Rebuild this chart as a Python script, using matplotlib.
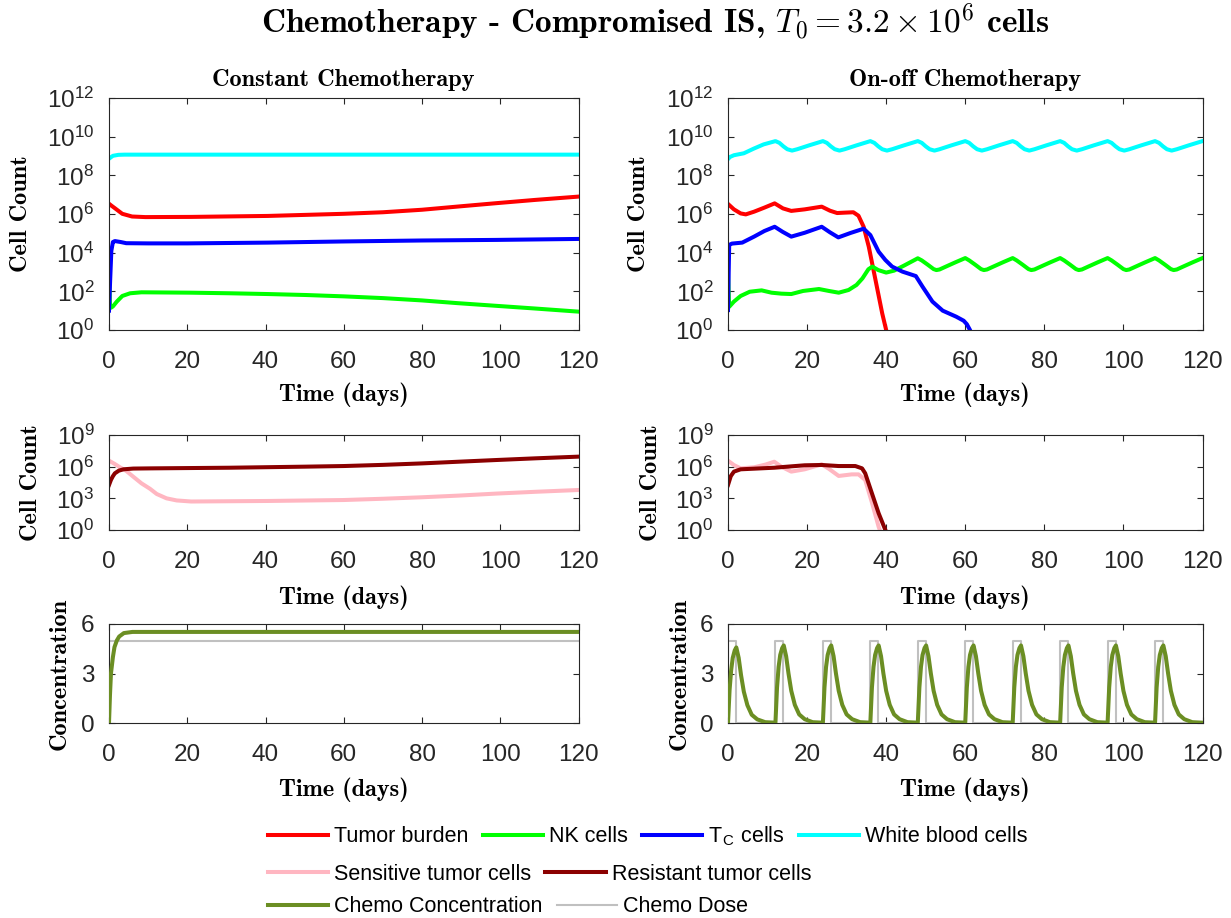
import numpy as np
import matplotlib
matplotlib.use('Agg')
import matplotlib.pyplot as plt
from matplotlib.ticker import NullLocator

plt.rcParams['font.family'] = 'Liberation Sans'
plt.rcParams['mathtext.fontset'] = 'cm'

# ---- constant chemotherapy (log10 of cell counts) ----
const_t_tumor = [0, 0.7, 1.5, 3.4, 5.9, 9.3, 21, 40.6, 60, 70, 80, 89.4, 99, 109, 120]
const_tumor = [6.53, 6.42, 6.3, 6.01, 5.87, 5.84, 5.85, 5.9, 6.01, 6.09, 6.22, 6.39, 6.56, 6.73, 6.9]

const_t_nk = [0, 0.25, 0.5, 1.0, 2.0, 3.4, 5.4, 8.3, 21, 30.8, 40.6, 50.3, 60, 70, 80, 89, 99, 109, 120]
const_nk = [2.93, 1.3, 1.15, 1.22, 1.47, 1.76, 1.9, 1.95, 1.93, 1.9, 1.86, 1.81, 1.74, 1.65, 1.53, 1.39, 1.25, 1.11, 0.95]

const_t_tc = [0, 0.3, 0.6, 1, 1.5, 3, 4.4, 10, 20, 40.6, 60, 80, 99, 120]
const_tc = [1.0, 2.6, 4.1, 4.55, 4.6, 4.55, 4.49, 4.48, 4.48, 4.52, 4.58, 4.63, 4.66, 4.71]

const_t_wbc = [0, 1, 2.4, 4, 120]
const_wbc = [8.86, 9.01, 9.06, 9.07, 9.07]

const_t_sens = [0, 1.5, 2.8, 4.4, 6.2, 8.3, 10.5, 12.2, 14.7, 17.3, 21, 40.6, 60, 70, 80, 89.4, 99, 109, 120]
const_sens = [6.57, 6.25, 5.94, 5.6, 5.05, 4.42, 3.9, 3.41, 3.0, 2.8, 2.7, 2.75, 2.84, 2.96, 3.1, 3.26, 3.45, 3.62, 3.79]

const_t_res = [0, 0.5, 1, 1.5, 2.5, 3.7, 6.2, 11, 30.8, 50, 60, 70, 80, 89.4, 99, 109, 120]
const_res = [4.26, 4.75, 5.1, 5.37, 5.62, 5.75, 5.82, 5.84, 5.9, 6.0, 6.06, 6.17, 6.31, 6.47, 6.63, 6.79, 6.95]

const_t_conc = [0, 0.25, 0.5, 1, 1.4, 2, 2.6, 3.8, 6, 120]
const_conc = [0, 1.7, 3.0, 4.0, 4.6, 5.0, 5.24, 5.45, 5.52, 5.52]
const_t_dose = [0, 120]
const_dose = [5, 5]

# ---- on-off chemotherapy ----
dose_start = [0, 12, 24, 36, 48, 60, 72, 84, 96, 108]
dose_days = 2
dose_level = 5

onoff_t_tumor = [0, 1.5, 3.2, 4.5, 6.6, 9.2, 11.8, 13.9, 16, 19.4, 23.7, 25.8, 27.6, 29.5, 31.7, 33, 34.3,
                 35.6, 37.3, 39, 40, 41]
onoff_tumor = [6.52, 6.24, 6.03, 5.98, 6.12, 6.33, 6.55, 6.29, 6.16, 6.24, 6.38, 6.17, 6.05, 6.07, 6.09, 5.91,
               5.34, 4.31, 2.59, 0.86, 0.0, -0.8]

onoff_t_tc = [0, 0.3, 1, 3.6, 6.6, 9.2, 11.8, 13.8, 16, 19.4, 23.7, 25.8, 27.9, 31, 34.3, 36, 38.1, 39.8,
              41.5, 44.1, 47.5, 49.2, 51.7, 54.3, 57.7, 59.6, 60.4, 61.2, 62]
onoff_tc = [1.03, 4.4, 4.47, 4.52, 4.83, 5.12, 5.34, 5.08, 4.83, 5.03, 5.34, 5.05, 4.79, 5.02, 5.24, 4.91,
            4.05, 3.62, 3.28, 3.02, 2.79, 2.24, 1.47, 1.0, 0.69, 0.48, 0.3, 0.0, -0.5]

onoff_t_nk_head = [0, 0.3, 1.5, 3.2, 5.5, 8.5, 11, 13.5, 16, 19, 23, 25.5, 28, 30.5, 32.5, 34, 35.5, 36.5,
                   38, 40, 42, 44.5, 48]
onoff_nk_head = [2.93, 1.2, 1.47, 1.76, 1.98, 2.05, 1.93, 1.88, 1.86, 2.02, 2.12, 2.02, 1.93, 2.07, 2.33,
                 2.67, 3.14, 3.28, 3.1, 2.97, 3.07, 3.33, 3.71]
nk_cycle_starts = [48, 60, 72, 84, 96, 108]
nk_cycle_offsets = [1, 2.5, 4, 4.7, 5.5, 7, 9.5, 12]
nk_cycle = [3.6, 3.38, 3.15, 3.1, 3.13, 3.27, 3.5, 3.72]

onoff_t_wbc_head = [0, 0.5, 1.5, 3, 4, 6.5, 9, 12]
onoff_wbc_head = [8.84, 8.95, 9.04, 9.1, 9.14, 9.38, 9.6, 9.77]
wbc_cycle_starts = [12, 24, 36, 48, 60, 72, 84, 96, 108]
wbc_cycle_offsets = [1, 2, 3, 4.2, 5.5, 8.5, 12]
wbc_cycle = [9.68, 9.5, 9.35, 9.28, 9.35, 9.55, 9.77]

onoff_t_res = [0, 0.7, 1.5, 3.2, 6.6, 11.7, 16, 19.4, 23.7, 28, 32.2, 33.9, 34.7, 36.4, 38.1, 39.8, 40.5]
onoff_res = [4.26, 5.1, 5.53, 5.75, 5.81, 5.9, 6.03, 6.13, 6.16, 6.06, 6.06, 5.84, 5.37, 3.47, 1.58, 0.0, -0.7]

onoff_t_sens = [0, 1.5, 3.2, 6.6, 9.5, 11.7, 13.5, 16, 19.4, 23.7, 25.5, 28, 31.3, 33, 34.7, 36.4, 38.1, 39]
onoff_sens = [6.57, 6.15, 5.84, 5.94, 6.2, 6.47, 6.0, 5.53, 5.75, 6.22, 5.8, 5.12, 5.27, 5.27, 4.74, 2.6,
              0.3, -0.6]

conc_offsets = [0, 0.4, 0.8, 1.2, 1.7, 2.1, 2.7, 3.3, 4.0, 4.9, 6.0, 7.4, 9.4, 11.9]
conc_first = [0, 2.0, 3.2, 3.95, 4.4, 4.58, 3.95, 2.9, 1.9, 1.08, 0.5, 0.22, 0.05, 0.02]
conc_later = [0.02, 2.15, 3.4, 4.12, 4.54, 4.7, 4.05, 3.0, 1.95, 1.1, 0.52, 0.23, 0.05, 0.02]

x_ticks = [0, 20, 40, 60, 80, 100, 120]

c_tumor = (1, 0, 0)
c_nk = (0, 1, 0)
c_tc = (0, 0, 1)
c_wbc = (0, 1, 1)
c_sens = '#ffb6c1'
c_res = '#8b0000'
c_conc = '#6b8e23'
c_dose = '#c0c0c0'
axis_gray = (0.15, 0.15, 0.15)
lw = 2.9


def cycles(head_t, head_v, starts, offsets, values_per_cycle):
    t, v = list(head_t), list(head_v)
    for s, vals in zip(starts, values_per_cycle):
        t += [s + o for o in offsets]
        v += list(vals)
    return np.array(t), np.array(v)


wbc_t, wbc_v = cycles(onoff_t_wbc_head, onoff_wbc_head, wbc_cycle_starts, wbc_cycle_offsets,
                      [wbc_cycle] * len(wbc_cycle_starts))
nk_t, nk_v = cycles(onoff_t_nk_head, onoff_nk_head, nk_cycle_starts, nk_cycle_offsets,
                    [nk_cycle] * len(nk_cycle_starts))
conc_t, conc_v = cycles([], [], dose_start, conc_offsets,
                        [conc_first] + [conc_later] * (len(dose_start) - 1))

# dose pulses as a step trace
dose_t, dose_v = [], []
for s in dose_start:
    dose_t += [s, s, s + dose_days, s + dose_days]
    dose_v += [0, dose_level, dose_level, 0]
dose_t.append(120)
dose_v.append(0)

fig = plt.figure(figsize=(12.31, 9.18), dpi=100)

lefts = [109 / 1231, 728 / 1231]
widths = [469.5 / 1231, 474.5 / 1231]
rows = [(1 - 330 / 918, 232 / 918), (1 - 530 / 918, 95 / 918), (1 - 723 / 918, 99 / 918)]
axes = [[fig.add_axes([lefts[c], rows[r][0], widths[c], rows[r][1]]) for c in range(2)] for r in range(3)]

label_font = dict(fontfamily='cmb10', fontsize=17.5, color='black')
ylab_x = [[-0.165, -0.165], [-0.143, -0.14], [-0.081, -0.078]]
xlab_y = [-0.225, -0.58, -0.55]


def style(ax, r, c):
    ax.set_xlim(0, 120)
    ax.set_xticks(x_ticks)
    ax.tick_params(direction='in', top=True, right=True, length=4.5, width=0.8,
                   colors=axis_gray, labelsize=17.5)
    ax.tick_params(axis='x', pad=15)
    ax.tick_params(axis='y', pad=10.5)
    for s in ax.spines.values():
        s.set_color(axis_gray)
        s.set_linewidth(0.8)
    ax.set_xlabel('Time (days)', **label_font)
    ax.xaxis.set_label_coords(0.5, xlab_y[r])
    ax.yaxis.set_label_coords(ylab_x[r][c], 0.5)


def log_axis(ax, top, step):
    ax.set_yscale('log')
    ax.set_ylim(1, 10.0 ** top)
    ax.set_yticks([10.0 ** k for k in range(0, top + 1, step)])
    ax.yaxis.set_minor_locator(NullLocator())


def p10(v):
    return 10.0 ** np.array(v)


# top row: immune cells and tumour burden
ax = axes[0][0]
l_tumor, = ax.plot(const_t_tumor, p10(const_tumor), color=c_tumor, lw=lw)
l_nk, = ax.plot(const_t_nk, p10(const_nk), color=c_nk, lw=lw)
l_tc, = ax.plot(const_t_tc, p10(const_tc), color=c_tc, lw=lw)
l_wbc, = ax.plot(const_t_wbc, p10(const_wbc), color=c_wbc, lw=lw)
ax.set_title('Constant Chemotherapy', pad=8.5, **label_font)

ax = axes[0][1]
ax.plot(onoff_t_tumor, p10(onoff_tumor), color=c_tumor, lw=lw)
ax.plot(nk_t, p10(nk_v), color=c_nk, lw=lw)
ax.plot(onoff_t_tc, p10(onoff_tc), color=c_tc, lw=lw)
ax.plot(wbc_t, p10(wbc_v), color=c_wbc, lw=lw)
ax.set_title('On-off Chemotherapy', pad=8.5, **label_font)

for c in range(2):
    log_axis(axes[0][c], 12, 2)
    axes[0][c].set_ylabel('Cell Count', **label_font)

# middle row: sensitive / resistant tumour cells
ax = axes[1][0]
l_sens, = ax.plot(const_t_sens, p10(const_sens), color=c_sens, lw=lw)
l_res, = ax.plot(const_t_res, p10(const_res), color=c_res, lw=lw)
ax = axes[1][1]
ax.plot(onoff_t_sens, p10(onoff_sens), color=c_sens, lw=lw)
ax.plot(onoff_t_res, p10(onoff_res), color=c_res, lw=lw)
for c in range(2):
    log_axis(axes[1][c], 9, 3)
    axes[1][c].set_ylabel('Cell Count', **label_font)

# bottom row: drug
ax = axes[2][0]
l_conc, = ax.plot(const_t_conc, const_conc, color=c_conc, lw=lw, zorder=3)
l_dose, = ax.plot(const_t_dose, const_dose, color=c_dose, lw=1.5, zorder=2)
ax = axes[2][1]
ax.plot(dose_t, dose_v, color=c_dose, lw=1.5, zorder=2)
ax.plot(conc_t, conc_v, color=c_conc, lw=lw, zorder=3)
for c in range(2):
    axes[2][c].set_ylim(0, 6)
    axes[2][c].set_yticks([0, 3, 6])
    axes[2][c].set_ylabel('Concentration', **label_font)

for r in range(3):
    for c in range(2):
        style(axes[r][c], r, c)

fig.text(655 / 1231, 1 - 33 / 918, 'Chemotherapy - Compromised IS, $T_0 = 3.2 \\times 10^6$ cells',
         ha='center', va='baseline', fontfamily='cmb10', fontsize=24)

leg_kw = dict(loc='center left', frameon=False, fontsize=15.5, handlelength=2.8, handletextpad=0.28,
              columnspacing=0.65, borderpad=0, borderaxespad=0)
fig.legend([l_tumor, l_nk, l_tc, l_wbc],
           ['Tumor burden', 'NK cells', 'T$_{\\mathregular{C}}$ cells', 'White blood cells'],
           bbox_to_anchor=(268 / 1231, 1 - 836 / 918), ncol=4, **leg_kw)
fig.legend([l_sens, l_res], ['Sensitive tumor cells', 'Resistant tumor cells'],
           bbox_to_anchor=(268 / 1231, 1 - 874 / 918), ncol=2, **leg_kw)
fig.legend([l_conc, l_dose], ['Chemo Concentration', 'Chemo Dose'],
           bbox_to_anchor=(268 / 1231, 1 - 907 / 918), ncol=2, **leg_kw)

fig.savefig('out.png', dpi=100)
